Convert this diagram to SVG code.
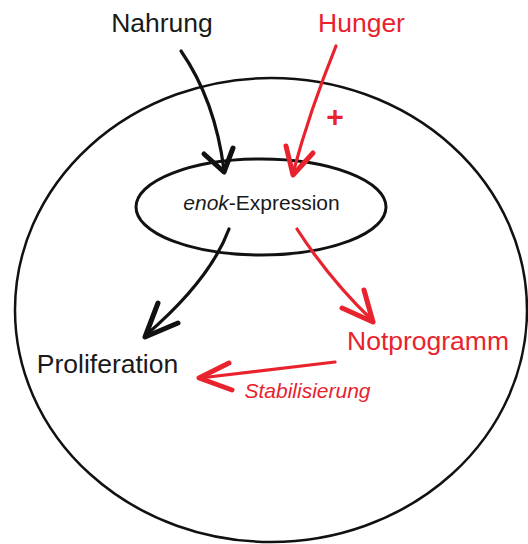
<svg xmlns="http://www.w3.org/2000/svg" width="528" height="544" viewBox="0 0 528 544">
<style>
text{font-family:"Liberation Sans",Arial,sans-serif}
.k{fill:#1a1a1a}
.r{fill:#e8232e}
.lk{fill:none;stroke:#111;stroke-width:3.2;stroke-linecap:round;stroke-linejoin:round}
.lr{fill:none;stroke:#e8232e;stroke-width:3.2;stroke-linecap:round;stroke-linejoin:round}
.hk{fill:none;stroke:#111;stroke-width:5;stroke-linecap:round;stroke-linejoin:round}
.hr{fill:none;stroke:#e8232e;stroke-width:5;stroke-linecap:round;stroke-linejoin:round}
</style>
<rect width="528" height="544" fill="#fff"/>
<g id="cell"><ellipse cx="271" cy="310" rx="256" ry="232" fill="none" stroke="#111" stroke-width="2.5"/></g>
<g id="enok"><ellipse cx="261" cy="207" rx="125" ry="48" fill="none" stroke="#111" stroke-width="3"/>
<text x="261.5" y="210" font-size="21" text-anchor="middle" class="k"><tspan font-style="italic">enok</tspan>-Expression</text></g>
<g id="nahrung"><text x="162" y="32" font-size="26.5" text-anchor="middle" class="k">Nahrung</text></g>
<g id="hunger"><text x="361.5" y="32" font-size="26.5" text-anchor="middle" class="r">Hunger</text></g>
<g id="proliferation"><text x="107.5" y="373" font-size="26.5" text-anchor="middle" class="k">Proliferation</text></g>
<g id="notprogramm"><text x="428" y="350" font-size="26.5" text-anchor="middle" class="r">Notprogramm</text></g>
<g id="connectors">
<path class="lk" d="M181 51 Q215 100 224 170"/>
<path class="hk" d="M204 154 L224 172 L233 148"/>
<path class="lr" d="M336 46 Q310 110 293 173"/>
<path class="hr" d="M286 146 L293 175 L313 153"/>
<text x="335" y="127" font-size="30" font-weight="bold" text-anchor="middle" class="r">+</text>
<path class="lk" d="M229 229 Q210 280 146 335"/>
<path class="hk" d="M158 303 L145 337 L178 323"/>
<path class="lr" d="M297 229 Q330 280 372 320"/>
<path class="hr" d="M364 290 L373 322 L342 308"/>
<path class="lr" d="M335 362 Q270 370 200 378"/>
<path class="hr" d="M229 363 L199 378 L232 390"/>
<text x="307.5" y="398" font-size="21" font-style="italic" text-anchor="middle" class="r">Stabilisierung</text>
</g>
</svg>
